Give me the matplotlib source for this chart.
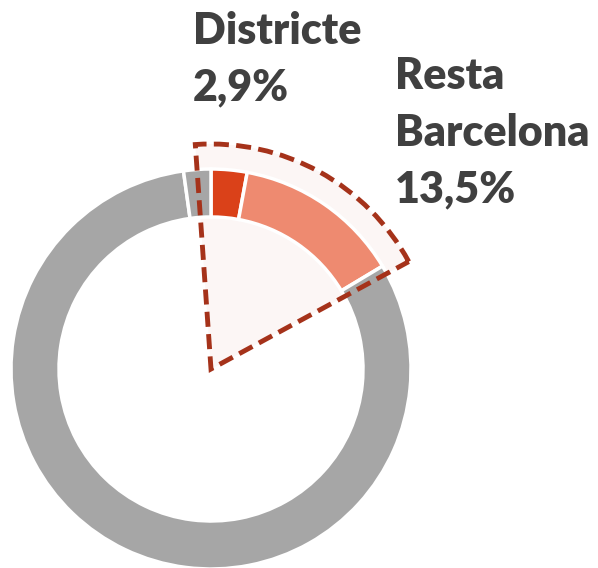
import matplotlib.pyplot as plt
from matplotlib.patches import Wedge

# dades
etiquetes = ['Districte', 'Resta Barcelona', 'Resta', 'Altres']
valors = [2.9, 13.5, 81.4, 2.2]
colors = ['#DA4119', '#EE8A70', '#A6A6A6', '#A6A6A6']
textos = ['Districte\n2,9%', 'Resta\nBarcelona\n13,5%']

W, H = 598, 568
fig = plt.figure(figsize=(W / 100, H / 100), dpi=100)
ax = fig.add_axes([0, 0, 1, 1])

cx, cy = 211, H - 369
r_ext = 200
gruix = 48

# zona destacada (fons rosat + vora discontinua)
ini, fi, r_dest = -4.0, 61.5, 225
fons = Wedge((cx, cy), r_dest, 90 - fi, 90 - ini, facecolor='#FCF6F5',
             edgecolor='none', zorder=0)
ax.add_patch(fons)

ax.pie(valors, colors=colors, startangle=90, counterclock=False,
       center=(cx, cy), radius=r_ext,
       wedgeprops=dict(width=gruix, edgecolor='white', linewidth=2.5))

vora = Wedge((cx, cy), r_dest, 90 - fi, 90 - ini, fill=False,
             edgecolor='#A5321A', linewidth=3.5, linestyle=(0, (3.1, 1.5)),
             capstyle='butt', joinstyle='miter', zorder=5)
ax.add_patch(vora)

# etiquetes
kw = dict(fontsize=31, fontweight='heavy', color='#404040', family='Lato',
          ha='left', va='baseline', linespacing=1.5)
ax.text(193, H - 100, textos[0], **kw)
ax.text(395, H - 202, textos[1], **kw)

ax.set_xlim(0, W)
ax.set_ylim(0, H)
ax.set_aspect('equal')
ax.axis('off')

fig.savefig('out.png', dpi=100)
